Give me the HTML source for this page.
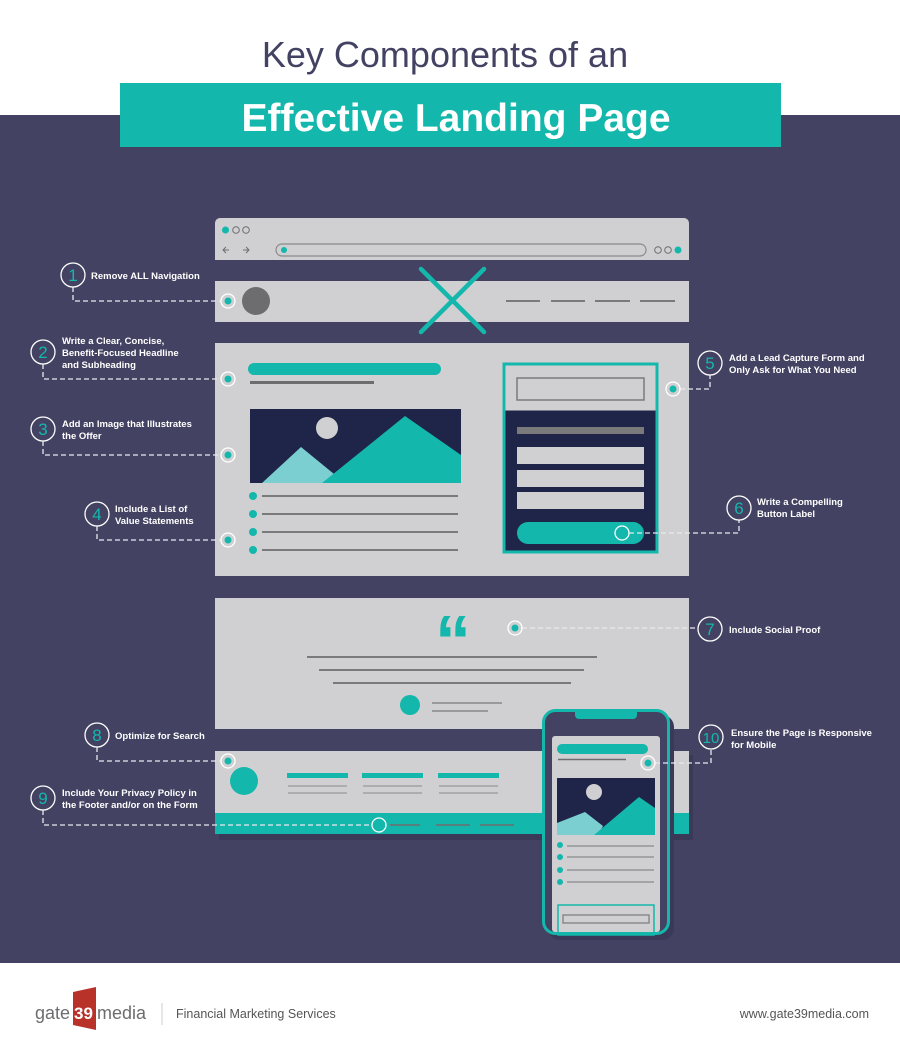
<!DOCTYPE html>
<html><head><meta charset="utf-8"><style>
html,body{margin:0;padding:0;background:#fff}
svg{display:block}
.l{font-family:"Liberation Sans",sans-serif;font-weight:bold;font-size:9.5px;fill:#fff}
.n{font-family:"Liberation Sans",sans-serif;font-size:17px;fill:#14b7ab;text-anchor:middle}
.d{stroke:#e8e8ee;stroke-width:1.3;stroke-dasharray:5 3;fill:none}
.g{stroke:#7a7a7c;stroke-width:2}
</style></head><body>
<svg width="900" height="1052" viewBox="0 0 900 1052" xmlns="http://www.w3.org/2000/svg">
<rect x="0" y="115" width="900" height="848" fill="#434262"/>
<text x="445" y="67" text-anchor="middle" font-family="Liberation Sans,sans-serif" font-size="36" fill="#434262" font-weight="300">Key Components of an</text>
<rect x="120" y="83" width="661" height="64" fill="#14b7ab"/>
<text x="456" y="131" text-anchor="middle" font-family="Liberation Sans,sans-serif" font-size="39" font-weight="bold" fill="#fff">Effective Landing Page</text>

<!-- browser top -->
<path d="M215 223 a5 5 0 0 1 5-5 h464 a5 5 0 0 1 5 5 v37 h-474z" fill="#d0d0d2"/>
<circle cx="225.5" cy="230" r="3.5" fill="#14b7ab"/>
<circle cx="236" cy="230" r="3.3" fill="none" stroke="#6d6d6f" stroke-width="1"/>
<circle cx="246" cy="230" r="3.3" fill="none" stroke="#6d6d6f" stroke-width="1"/>
<path d="M229 250h-6m3-3l-3 3 3 3M243 250h6m-3-3l3 3-3 3" stroke="#6d6d6f" stroke-width="1" fill="none"/>
<rect x="276" y="244" width="370" height="12" rx="6" fill="none" stroke="#8a8a8c" stroke-width="1.2"/>
<circle cx="284" cy="250" r="3" fill="#14b7ab"/>
<circle cx="658" cy="250" r="3.3" fill="none" stroke="#6d6d6f" stroke-width="1"/>
<circle cx="668" cy="250" r="3.3" fill="none" stroke="#6d6d6f" stroke-width="1"/>
<circle cx="678" cy="250" r="3.5" fill="#14b7ab"/>

<!-- nav -->
<rect x="215" y="281" width="474" height="41" fill="#d0d0d2"/>
<circle cx="256" cy="301" r="14" fill="#6d6d6f"/>
<path d="M506 301h34M551 301h34M595 301h35M640 301h35" class="g"/>
<path d="M421 269L484 332M484 269L421 332" stroke="#14b7ab" stroke-width="4.5" stroke-linecap="round"/>

<!-- main -->
<rect x="215" y="343" width="474" height="233" fill="#d0d0d2"/>
<rect x="248" y="363" width="193" height="12" rx="6" fill="#14b7ab"/>
<path d="M250 382.5h124" stroke="#6d6d6f" stroke-width="3"/>
<rect x="250" y="409" width="211" height="74" fill="#1f2449"/>
<circle cx="327" cy="428" r="11" fill="#d0d0d2"/>
<path d="M262 483L301 447L345 483z" fill="#7ccfd0"/>
<path d="M322 483L405 416L461 455V483z" fill="#14b7ab"/>
<g fill="#14b7ab"><circle cx="253" cy="496" r="4"/><circle cx="253" cy="514" r="4"/><circle cx="253" cy="532" r="4"/><circle cx="253" cy="550" r="4"/></g>
<path d="M262 496h196M262 514h196M262 532h196M262 550h196" class="g"/>
<!-- form -->
<rect x="504" y="364" width="153" height="188" fill="#1f2449" stroke="#14b7ab" stroke-width="3"/>
<rect x="505.5" y="365.5" width="150" height="45" fill="#d0d0d2"/>
<rect x="517" y="378" width="127" height="22" fill="none" stroke="#7a7a7c" stroke-width="1.5"/>
<rect x="517" y="427" width="127" height="7" fill="#7a7a7c"/>
<rect x="517" y="447" width="127" height="17" fill="#d0d0d2"/>
<rect x="517" y="470" width="127" height="17" fill="#d0d0d2"/>
<rect x="517" y="492" width="127" height="17" fill="#d0d0d2"/>
<rect x="517" y="522" width="127" height="22" rx="11" fill="#14b7ab"/>

<!-- quote -->
<rect x="215" y="598" width="474" height="131" fill="#d0d0d2"/>
<text x="453" y="666" text-anchor="middle" font-family="Liberation Sans,sans-serif" font-weight="bold" font-size="72" fill="#14b7ab">“</text>
<path d="M307 657h290M319 670h265M333 683h238" class="g"/>
<circle cx="410" cy="705" r="10" fill="#14b7ab"/>
<path d="M432 703h70M432 711h56" stroke="#7a7a7c" stroke-width="1.3"/>

<!-- footer block -->
<rect x="219" y="755" width="474" height="85" fill="#3a3957"/>
<rect x="215" y="751" width="474" height="83" fill="#d0d0d2"/>
<circle cx="244" cy="781" r="14" fill="#14b7ab"/>
<g fill="#14b7ab"><rect x="287" y="773" width="61" height="5"/><rect x="362" y="773" width="61" height="5"/><rect x="438" y="773" width="61" height="5"/></g>
<path d="M288 786h59M288 793h59M363 786h59M363 793h59M439 786h59M439 793h59" stroke="#8a8a8c" stroke-width="1"/>
<rect x="215" y="813" width="474" height="21" fill="#14b7ab"/>
<path d="M390 825h30M436 825h34M480 825h34" stroke="#6d6d6f" stroke-width="1.5"/>

<!-- phone -->
<rect x="548" y="715" width="126" height="225" rx="12" fill="#3a3957"/>
<rect x="543.5" y="710.5" width="125" height="223" rx="12" fill="#434262" stroke="#14b7ab" stroke-width="3"/>
<path d="M575 710h62v5a4 4 0 0 1-4 4h-54a4 4 0 0 1-4-4z" fill="#14b7ab"/>
<rect x="552" y="736" width="108" height="196" rx="3" fill="#d0d0d2"/>
<rect x="557" y="744" width="91" height="10" rx="5" fill="#14b7ab"/>
<path d="M558 759.5h68" stroke="#6d6d6f" stroke-width="1.5"/>
<rect x="557" y="778" width="98" height="57" fill="#1f2449"/>
<circle cx="594" cy="792" r="8" fill="#d0d0d2"/>
<path d="M557 835V823L585 812L603 826L598 835z" fill="#7ccfd0"/>
<path d="M594 835L639 797L655 808V835z" fill="#14b7ab"/>
<g fill="#14b7ab"><circle cx="560" cy="845" r="3"/><circle cx="560" cy="857" r="3"/><circle cx="560" cy="870" r="3"/><circle cx="560" cy="882" r="3"/></g>
<path d="M567 846h87M567 857h87M567 870h87M567 882h87" stroke="#8a8a8c" stroke-width="1.2"/>
<rect x="558" y="905" width="96" height="30" fill="none" stroke="#14b7ab" stroke-width="1.5"/>
<rect x="563" y="915" width="86" height="8" fill="none" stroke="#7a7a7c" stroke-width="1.2"/>

<!-- connectors -->
<path class="d" d="M73 287V301H221M43 364V379H221M43 441V455H221M97 526V540H221M680 389H710V375M629 533H739V520M522 628H698M97 747V761H221M43 810V825H372M655 763H711V749"/>
<g>
<g fill="none" stroke="#fff" stroke-width="1.3">
<circle cx="228" cy="301" r="7"/><circle cx="228" cy="379" r="7"/><circle cx="228" cy="455" r="7"/><circle cx="228" cy="540" r="7"/><circle cx="673" cy="389" r="7"/><circle cx="622" cy="533" r="7"/><circle cx="515" cy="628" r="7"/><circle cx="228" cy="761" r="7"/><circle cx="379" cy="825" r="7"/><circle cx="648" cy="763" r="7"/>
</g>
<g fill="#14b7ab">
<circle cx="228" cy="301" r="3.5"/><circle cx="228" cy="379" r="3.5"/><circle cx="228" cy="455" r="3.5"/><circle cx="228" cy="540" r="3.5"/><circle cx="673" cy="389" r="3.5"/><circle cx="622" cy="533" r="3.5"/><circle cx="515" cy="628" r="3.5"/><circle cx="228" cy="761" r="3.5"/><circle cx="379" cy="825" r="3.5"/><circle cx="648" cy="763" r="3.5"/>
</g>
</g>
<g fill="#434262" stroke="#fff" stroke-width="1.3">
<circle cx="73" cy="275" r="12"/><circle cx="43" cy="352" r="12"/><circle cx="43" cy="429" r="12"/><circle cx="97" cy="514" r="12"/><circle cx="710" cy="363" r="12"/><circle cx="739" cy="508" r="12"/><circle cx="710" cy="629" r="12"/><circle cx="97" cy="735" r="12"/><circle cx="43" cy="798" r="12"/><circle cx="711" cy="737" r="12"/>
</g>
<text class="n" x="73" y="281">1</text><text class="n" x="43" y="358">2</text><text class="n" x="43" y="435">3</text><text class="n" x="97" y="520">4</text><text class="n" x="710" y="369">5</text><text class="n" x="739" y="514">6</text><text class="n" x="710" y="635">7</text><text class="n" x="97" y="741">8</text><text class="n" x="43" y="804">9</text><text class="n" x="711" y="743" style="font-size:15px">10</text>

<text class="l" x="91" y="279">Remove ALL Navigation</text>
<text class="l" x="62" y="344">Write a Clear, Concise,</text>
<text class="l" x="62" y="356">Benefit-Focused Headline</text>
<text class="l" x="62" y="368">and Subheading</text>
<text class="l" x="62" y="427">Add an Image that Illustrates</text>
<text class="l" x="62" y="439">the Offer</text>
<text class="l" x="115" y="512">Include a List of</text>
<text class="l" x="115" y="524">Value Statements</text>
<text class="l" x="729" y="361">Add a Lead Capture Form and</text>
<text class="l" x="729" y="373">Only Ask for What You Need</text>
<text class="l" x="757" y="505">Write a Compelling</text>
<text class="l" x="757" y="517">Button Label</text>
<text class="l" x="729" y="633">Include Social Proof</text>
<text class="l" x="115" y="739">Optimize for Search</text>
<text class="l" x="62" y="796">Include Your Privacy Policy in</text>
<text class="l" x="62" y="808">the Footer and/or on the Form</text>
<text class="l" x="731" y="736">Ensure the Page is Responsive</text>
<text class="l" x="731" y="748">for Mobile</text>

<!-- bottom footer -->
<text x="35" y="1019" font-family="Liberation Sans,sans-serif" font-size="18" fill="#6d6d6f">gate</text>
<path d="M73 992L96 987V1030L73 1025z" fill="#b8322a"/>
<text x="74" y="1019" font-family="Liberation Sans,sans-serif" font-size="17" font-weight="bold" fill="#fff">39</text>
<text x="97" y="1019" font-family="Liberation Sans,sans-serif" font-size="18" fill="#6d6d6f">media</text>
<path d="M162 1003v22" stroke="#ccc" stroke-width="1"/>
<text x="176" y="1018" font-family="Liberation Sans,sans-serif" font-size="12.5" fill="#555">Financial Marketing Services</text>
<text x="869" y="1018" text-anchor="end" font-family="Liberation Sans,sans-serif" font-size="12.5" fill="#555">www.gate39media.com</text>
</svg>
</body></html>
